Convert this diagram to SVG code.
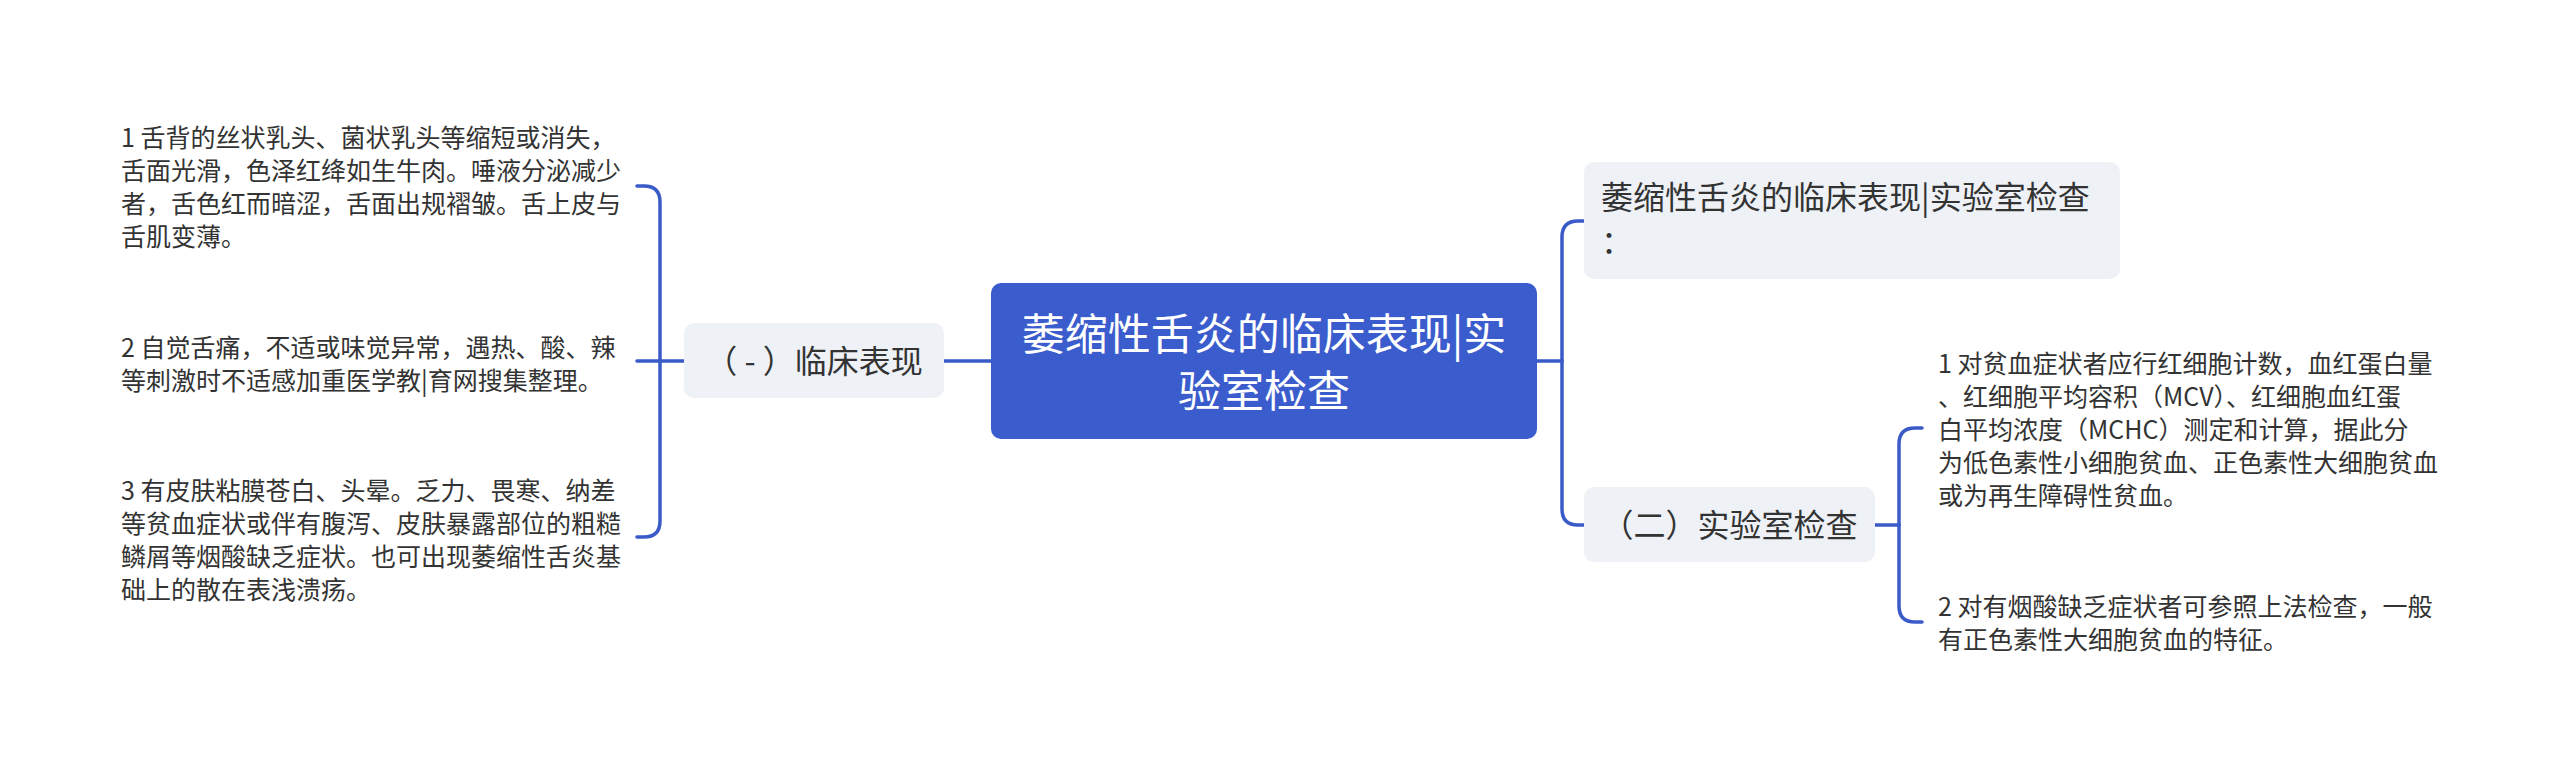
<svg xmlns="http://www.w3.org/2000/svg" width="2560" height="774" viewBox="0 0 2560 774">
<style>
text{font-family:"Noto Sans CJK SC","Noto Sans",sans-serif;fill:#333333}
.leaf{font-size:25px}
.sub{font-size:32px}
.root{font-size:43px;fill:#ffffff}
.lt{fill:#eef1f5}
.con{fill:none;stroke:#3a5bc7;stroke-width:3.5;stroke-linecap:round}
</style>
<rect width="2560" height="774" fill="#ffffff"/>
<g id="connectors">
<path class="con" d="M991,361 H944"/>
<path class="con" d="M684,361 H637"/>
<path class="con" d="M660,361 V202 Q660,186 644,186 H637"/>
<path class="con" d="M660,361 V521 Q660,537 644,537 H637"/>
<path class="con" d="M1537,361 H1562"/>
<path class="con" d="M1562,361 V237 Q1562,221 1578,221 H1584"/>
<path class="con" d="M1562,361 V509 Q1562,525 1578,525 H1584"/>
<path class="con" d="M1875,525 H1899"/>
<path class="con" d="M1899,525 V444 Q1899,428 1915,428 H1922"/>
<path class="con" d="M1899,525 V606 Q1899,622 1915,622 H1922"/>
</g>
<g id="root">
<rect x="991" y="283" width="546" height="156" rx="10" fill="#3b5ccc"/>
<text class="root" x="1264" y="350" text-anchor="middle">萎缩性舌炎的临床表现|实</text>
<text class="root" x="1264" y="407" text-anchor="middle">验室检查</text>
</g>
<g id="node-clinical">
<rect class="lt" x="684" y="323" width="260" height="75" rx="10"/>
<text class="sub" x="814" y="372.5" text-anchor="middle">（ - ）临床表现</text>
</g>
<g id="leaf-c1">
<text class="leaf" x="121" y="146.5">1 舌背的丝状乳头、菌状乳头等缩短或消失，</text>
<text class="leaf" x="121" y="179.5">舌面光滑，色泽红绛如生牛肉。唾液分泌减少</text>
<text class="leaf" x="121" y="212.5">者，舌色红而暗涩，舌面出规褶皱。舌上皮与</text>
<text class="leaf" x="121" y="245.5">舌肌变薄。</text>
</g>
<g id="leaf-c2">
<text class="leaf" x="121" y="356.5">2 自觉舌痛，不适或味觉异常，遇热、酸、辣</text>
<text class="leaf" x="121" y="389.5">等刺激时不适感加重医学教|育网搜集整理。</text>
</g>
<g id="leaf-c3">
<text class="leaf" x="121" y="499.5">3 有皮肤粘膜苍白、头晕。乏力、畏寒、纳差</text>
<text class="leaf" x="121" y="532.5">等贫血症状或伴有腹泻、皮肤暴露部位的粗糙</text>
<text class="leaf" x="121" y="565.5">鳞屑等烟酸缺乏症状。也可出现萎缩性舌炎基</text>
<text class="leaf" x="121" y="598.5">础上的散在表浅溃疡。</text>
</g>
<g id="node-title">
<rect class="lt" x="1584" y="162" width="536" height="117" rx="10"/>
<text class="sub" x="1601" y="209">萎缩性舌炎的临床表现|实验室检查</text>
<text class="sub" x="1601" y="253">：</text>
</g>
<g id="node-lab">
<rect class="lt" x="1584" y="487" width="291" height="75" rx="10"/>
<text class="sub" x="1729.5" y="537" text-anchor="middle">（二）实验室检查</text>
</g>
<g id="leaf-l1">
<text class="leaf" x="1938" y="372.5">1 对贫血症状者应行红细胞计数，血红蛋白量</text>
<text class="leaf" x="1938" y="405.5">、红细胞平均容积（MCV）、红细胞血红蛋</text>
<text class="leaf" x="1938" y="438.5">白平均浓度（MCHC）测定和计算，据此分</text>
<text class="leaf" x="1938" y="471.5">为低色素性小细胞贫血、正色素性大细胞贫血</text>
<text class="leaf" x="1938" y="504.5">或为再生障碍性贫血。</text>
</g>
<g id="leaf-l2">
<text class="leaf" x="1938" y="615.5">2 对有烟酸缺乏症状者可参照上法检查，一般</text>
<text class="leaf" x="1938" y="648.5">有正色素性大细胞贫血的特征。</text>
</g>
</svg>
